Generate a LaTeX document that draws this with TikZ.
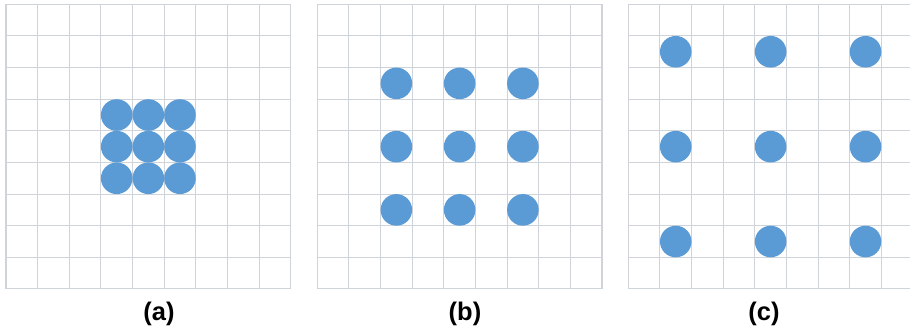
\documentclass[tikz,border=0pt]{standalone}
\usepackage{fontspec}
\setmainfont{Liberation Sans}
\definecolor{dotblue}{HTML}{5B9BD5}
\definecolor{gridgray}{HTML}{CFD3DA}

\begin{document}
\begin{tikzpicture}[
    x=0.02cm, y=-0.02cm,
    gridline/.style={draw=gridgray, line width=0.6pt},
    dot/.style={circle, fill=dotblue, minimum size=0.632cm, inner sep=0pt},
    caption/.style={anchor=base, font=\bfseries\fontsize{14.5}{17}\selectfont},
]
\useasboundingbox (0,0) rectangle (910,331);

% panel (a)
\foreach \k in {0,...,9} {
  \draw[gridline] ({6+\k*31.63},4.3) -- ++(0,284.7);
  \draw[gridline] (6,{4.3+\k*31.63}) -- ++(284.7,0);
}
\foreach \i in {3,4,5}
  \foreach \j in {3,4,5}
    \node[dot] (a\i\j) at ({6+(\i+0.5)*31.63},{4.3+(\j+0.5)*31.63}) {};
\node[caption] (capa) at (159,320) {(a)};

% panel (b)
\foreach \k in {0,...,9} {
  \draw[gridline] ({317.3+\k*31.63},4.3) -- ++(0,284.7);
  \draw[gridline] (317.3,{4.3+\k*31.63}) -- ++(284.7,0);
}
\foreach \i in {2,4,6}
  \foreach \j in {2,4,6}
    \node[dot] (b\i\j) at ({317.3+(\i+0.5)*31.63},{4.3+(\j+0.5)*31.63}) {};
\node[caption] (capb) at (465,320) {(b)};

% panel (c), cut at the right edge
\foreach \k in {0,...,8}
  \draw[gridline] ({628.3+\k*31.63},4.3) -- ++(0,284.7);
\foreach \k in {0,...,9}
  \draw[gridline] (628.3,{4.3+\k*31.63}) -- (910,{4.3+\k*31.63});
\foreach \i in {1,4,7}
  \foreach \j in {1,4,7}
    \node[dot] (c\i\j) at ({628.3+(\i+0.5)*31.63},{4.3+(\j+0.5)*31.63}) {};
\node[caption] (capc) at (764,320) {(c)};

\end{tikzpicture}
\end{document}
